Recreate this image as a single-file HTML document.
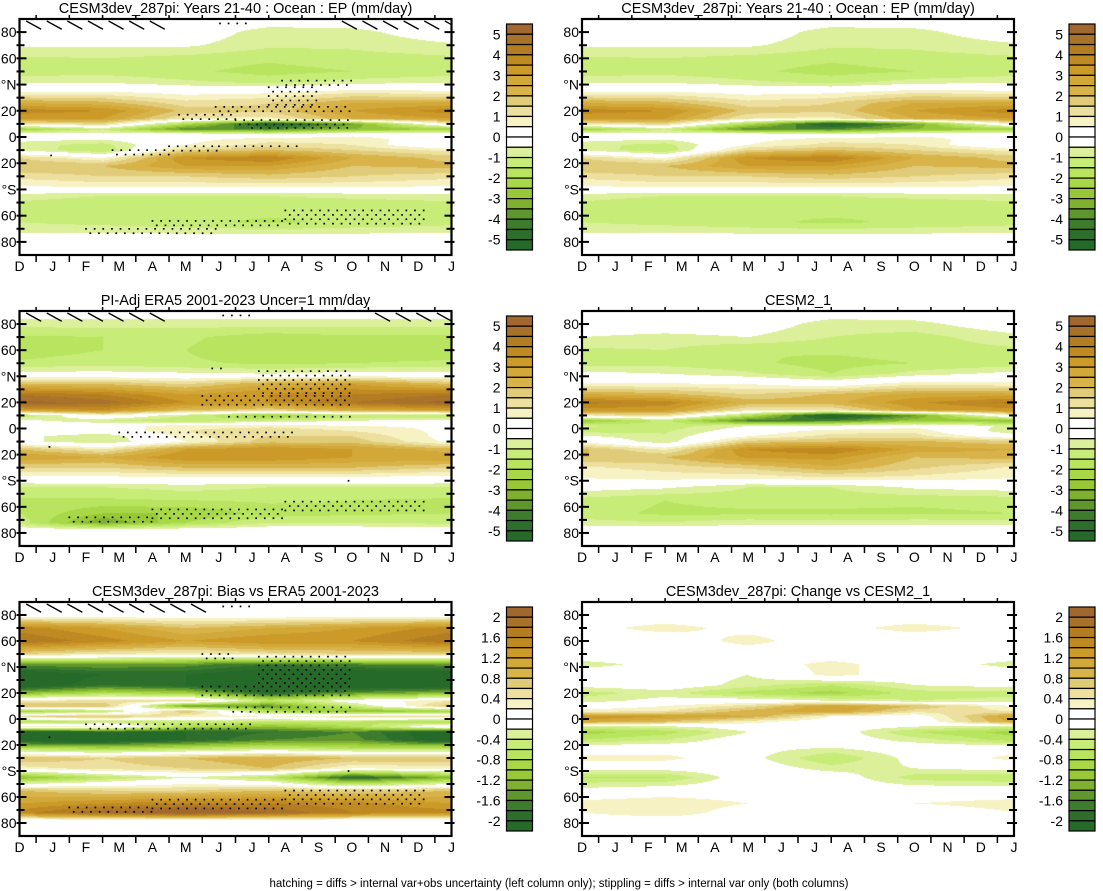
<!DOCTYPE html>
<html><head><meta charset="utf-8">
<style>
html,body{margin:0;padding:0;background:#fff;}
#root{position:relative;width:1103px;height:891px;overflow:hidden;font-family:"Liberation Sans",Arial,sans-serif;}
canvas{position:absolute;}
svg{position:absolute;left:0;top:0;}
</style></head>
<body>
<div id="root">
<canvas id="c0"></canvas>
<canvas id="c1"></canvas>
<canvas id="c2"></canvas>
<canvas id="c3"></canvas>
<canvas id="c4"></canvas>
<canvas id="c5"></canvas>
<svg id="ov" width="1103" height="891"></svg>
</div>
<script>
// ---- data ----
const LAT=[90,80,70,60,50,42,34,26,20,14,10,6,2,-2,-6,-10,-16,-22,-30,-38,-45,-55,-65,-72,-78,-90];
const T=[0,2.5,5,7.5,10,13];
const epModel=[
[0,0,0,0,0,0],[0,0,0,-0.8,-0.7,0],[-0.4,-0.4,-0.4,-0.9,-0.9,-0.6],[-1.1,-1.0,-1.2,-1.4,-1.2,-1.1],
[-1.3,-1.2,-1.4,-1.7,-1.5,-1.3],[-0.6,-0.6,-0.9,-1.2,-0.8,-0.6],[0.6,0.6,0.3,0.4,0.9,0.7],
[2.5,2.2,1.2,1.5,2.5,2.6],[3.8,3.5,1.8,1.6,3.0,3.8],[3.0,3.0,1.0,0.8,2.5,3.0],[1.0,1.5,-2.0,-5.5,-3.5,1.0],
[-2.5,-1.0,-4.0,-4.0,-3.0,-2.5],[0.3,-0.4,0.3,-0.2,0.3,0.3],[-0.3,-0.5,0.3,0.8,0.8,0.0],
[-0.8,-1.2,0.5,1.2,1.0,-0.4],[-0.6,-1.5,1.5,2.0,1.5,0.8],[1.5,0.5,3.5,4.0,2.5,1.8],[2.0,2.0,3.0,3.0,2.0,2.2],
[1.2,1.5,1.5,1.8,1.5,1.2],[0.4,0.6,0.6,0.6,0.6,0.4],[-0.8,-1.0,-1.0,-1.0,-0.9,-0.8],[-1.3,-1.5,-1.3,-1.3,-1.4,-1.3],
[-1.0,-1.2,-1.4,-1.6,-1.4,-1.2],[-0.6,-0.6,-0.7,-0.8,-0.7,-0.6],[0,0,0,0,0,0],[0,0,0,0,0,0]];
const epEra5=[
[0,0,0,0,0,0],[-0.8,-0.8,-0.8,-0.8,-0.8,-0.8],[-1.6,-1.5,-1.4,-1.8,-1.6,-1.6],[-1.8,-1.5,-1.5,-2.0,-1.8,-1.8],
[-1.4,-1.2,-1.4,-1.6,-1.5,-1.4],[-0.3,-0.3,-0.4,-0.5,-0.3,-0.3],[2.0,2.0,1.5,2.5,3.0,2.0],
[4.5,4.0,3.0,3.5,4.0,4.5],[5.2,4.8,3.5,3.5,4.5,5.2],[3.0,3.5,2.0,1.5,2.5,3.0],[-1.5,0.5,-1.0,-2.5,-1.5,-1.5],
[-0.3,-1.0,-1.5,-1.0,-0.5,-0.3],[0.4,0.2,0.8,0.8,0.5,0.4],[0.2,0.0,1.0,1.5,1.0,0.3],
[-0.3,-1.0,0.8,1.5,1.5,0.2],[-0.3,-1.0,0.5,1.8,1.8,0.3],[2.0,1.0,3.0,3.5,3.0,2.2],[3.0,2.5,3.5,3.5,3.0,3.0],
[1.5,1.5,2.0,2.0,2.0,1.5],[0.2,0.3,0.3,0.3,0.3,0.2],[-1.0,-1.0,-0.8,-1.0,-1.0,-1.0],[-1.6,-1.6,-1.5,-1.4,-1.5,-1.6],
[-1.5,-2.5,-2.5,-1.8,-1.6,-1.5],[-1.2,-3.5,-2.0,-1.0,-1.0,-1.2],[0,0,0,0,0,0],[0,0,0,0,0,0]];
const epCesm2=[
[0,0,0,0,0,0],[0,0,0,-0.8,-0.7,0],[-0.5,-0.7,-0.5,-1.0,-1.2,-0.7],[-1.1,-1.0,-1.5,-1.4,-1.2,-1.1],
[-1.3,-1.2,-1.4,-1.7,-1.5,-1.3],[-0.3,-0.5,-0.9,-1.5,-0.8,-0.3],[0.6,0.6,0.5,0.1,0.9,0.7],
[2.6,2.2,1.5,2.1,2.7,2.7],[4.2,3.8,2.3,2.3,3.4,4.2],[3.3,3.1,1.0,1.0,2.9,3.3],[1.0,1.3,-1.8,-5.9,-3.6,0.8],
[-2.8,-1.3,-4.1,-4.1,-2.7,-2.9],[-0.9,-1.3,-0.5,-0.3,0.3,-0.7],[-1.2,-1.1,0,0.8,0.9,-1.0],
[-0.4,-0.9,0.5,1.2,1.2,0.0],[0.3,-0.9,1.7,2.0,2.1,1.7],[2.1,0.9,3.5,4.0,2.8,2.5],[2.0,2.0,3.1,3.2,2.0,2.2],
[0.9,1.2,1.6,2.4,1.6,0.9],[0.5,0.7,0.6,0.9,0.8,0.5],[-0.2,-0.4,-1.0,-1.0,-0.4,-0.2],[-1.2,-1.5,-1.3,-1.3,-1.4,-1.3],
[-1.3,-1.6,-1.6,-1.6,-1.6,-1.5],[-0.8,-1.0,-0.7,-0.8,-0.7,-0.8],[0,0,0,0,0,0],[0,0,0,0,0,0]];
const biasVsEra5=[
[0,0,0,0,0,0],[0,0,0,0,0,0],[1.5,1.2,0.8,1.0,1.2,1.5],[1.8,1.5,1.2,1.4,1.4,1.8],
[0.6,0.4,0.3,0.5,0.6,0.6],[-1.5,-1.4,-1.5,-1.8,-1.6,-1.5],[-2.3,-2.0,-2.0,-2.3,-2.3,-2.3],
[-2.3,-1.8,-2.0,-2.5,-2.3,-2.3],[-1.2,-0.8,-1.0,-2.0,-1.5,-1.2],[0.4,0.5,0.6,-0.6,0.0,0.4],[0.8,0.8,-1.5,-1.5,-0.5,0.8],
[-1.0,-0.6,0.8,-0.8,-1.2,-1.0],[0.6,0.8,0.3,0.2,0.5,0.6],[-0.8,-0.5,-0.5,-0.5,-0.6,-0.8],
[0.3,0.4,-0.8,-1.2,-0.8,0.3],[-2.3,-2.0,-2.0,-1.8,-1.6,-2.3],[-2.3,-2.3,-2.0,-1.6,-1.5,-2.3],[-0.8,-1.0,-0.8,-0.6,-0.8,-0.8],
[0.8,0.6,0.8,1.0,0.8,0.8],[0.3,0.5,0.6,0.8,0.2,0.3],[-1.2,-0.6,-0.2,-0.6,-2.0,-1.2],[0.8,0.6,0.6,0.8,0.6,0.8],
[1.2,1.4,1.6,1.6,1.5,1.2],[1.5,2.0,2.3,2.0,1.6,1.5],[0,0,0,0,0,0],[0,0,0,0,0,0]];
const changeVsCesm2=[
[0,0,0,0,0,0],[0,0,0,0,0,0],[0.1,0.3,0.1,0.1,0.3,0.1],[0,0,0.3,0,0,0],
[0,0,0,0,0,0],[-0.3,-0.1,0,0.3,0,-0.3],[0,0,-0.2,0.3,0,0],
[-0.1,0,-0.3,-0.6,-0.2,-0.1],[-0.5,-0.3,-0.7,-0.9,-0.5,-0.5],[-0.3,-0.1,0,-0.2,-0.4,-0.3],[0,0.2,0.5,1.2,0.8,0.2],
[0.3,0.4,0.9,1.2,0.5,0.4],[1.4,1.2,1.0,0.2,0,1.2],[1.1,0.8,0.3,0,-0.1,1.1],
[-0.4,-0.3,0,0,-0.2,-0.4],[-0.9,-0.7,-0.2,0,-0.6,-0.9],[-0.6,-0.4,0,0,-0.3,-0.7],[0,0,-0.1,-0.2,0,0],
[0.3,0.3,-0.1,-0.6,-0.1,0.3],[-0.1,-0.1,0,-0.3,-0.2,-0.1],[-0.6,-0.6,0,0,-0.5,-0.6],[-0.1,0,0,0,0,0],
[0.3,0.4,0.2,0,0.2,0.3],[0.2,0.4,0,0,0,0.2],[0,0,0,0,0,0],[0,0,0,0,0,0]];
const monthLabels=['D','J','F','M','A','M','J','J','A','S','O','N','D','J'];
const latTicks=[80,60,40,20,0,-20,-40,-60,-80];
const latTickLabels=['80','60','°N','20','0','20','°S','60','80'];
const cbLabelsEP=['5','4','3','2','1','0','-1','-2','-3','-4','-5'];
const cbLabelsDiff=['2','1.6','1.2','0.8','0.4','0','-0.4','-0.8','-1.2','-1.6','-2'];
const titles=['CESM3dev_287pi: Years 21-40 : Ocean : EP (mm/day)','CESM3dev_287pi: Years 21-40 : Ocean : EP (mm/day)',
'PI-Adj ERA5 2001-2023 Uncer=1 mm/day','CESM2_1','CESM3dev_287pi: Bias vs ERA5 2001-2023','CESM3dev_287pi: Change vs CESM2_1'];
// stipple regions: [tStart,tEnd,latTop,latBottom]
const stipModel=[[7.9,10,43,38],[7.5,9,38,22],[5.9,10,23,19],[4.8,6.5,17,13],[6.5,10,13,8],[7,10,7,4],[0.95,1.05,-14,-16],[2.8,4.5,-10,-16],[4.5,6,-7,-11],[6,8.5,-7,-9],[2,6,-70,-74],[4,8,-64,-70],[8,12.2,-56,-68],[5.9,7,90,86]];
const stipEra5=[[5.8,6.2,46,44],[7.2,10,44,25],[5.5,10,25,15],[6.3,10,9,6],[3,8.2,-3,-8],[0.9,1.1,-14,-16],[1.5,4,-68,-74],[4,8,-62,-70],[8,12.2,-56,-66],[9.9,10.1,-40,-42],[6,7,90,86]];
const stipBias=[[5.5,6.5,50,46],[7.2,10,48,25],[5.5,10,25,15],[6.3,10,9,4],[2,7,-4,-10],[0.9,1.1,-14,-16],[1.5,4,-68,-74],[4,8,-62,-70],[8,12.2,-55,-66],[9.9,10.1,-40,-42],[6,7,90,86]];
// hatch month ranges
const hatchModel=[[0,4],[9.5,13]];
const hatchEra5=[[0,4],[10.5,13]];
const hatchBias=[[0,5.5]];

const COLORS=['#a0682e','#a8722a','#b47d22','#c08a22','#cc9a28','#d2a838','#d8b34a','#e0cb78','#ede09e','#f6f2c4','#ffffff','#ffffff',
'#dcef9a','#c8ec78','#b8e460','#a8d848','#98c838','#80b030','#5f962e','#3c7c2c','#2d6e2c','#266a2a'];

const COLX=[19.5,582], W=432;
const ROWY=[19,311,602], ROWH=[236,235,234];
const panels=[
 {col:0,row:0,grid:epModel,max:5.5,step:0.5,cb:cbLabelsEP,stip:stipModel,hatch:hatchModel},
 {col:1,row:0,grid:epModel,max:5.5,step:0.5,cb:cbLabelsEP,stip:[],hatch:[]},
 {col:0,row:1,grid:epEra5,max:5.5,step:0.5,cb:cbLabelsEP,stip:stipEra5,hatch:hatchEra5},
 {col:1,row:1,grid:epCesm2,max:5.5,step:0.5,cb:cbLabelsEP,stip:[],hatch:[]},
 {col:0,row:2,grid:biasVsEra5,max:2.2,step:0.2,cb:cbLabelsDiff,stip:stipBias,hatch:hatchBias},
 {col:1,row:2,grid:changeVsCesm2,max:2.2,step:0.2,cb:cbLabelsDiff,stip:[],hatch:[]}];

function sample(grid,t,lat){
  let j=0; while(j<T.length-2 && t>T[j+1]) j++;
  let ft=(t-T[j])/(T[j+1]-T[j]); ft=Math.max(0,Math.min(1,ft));
  let i=0; while(i<LAT.length-2 && lat<LAT[i+1]) i++;
  let fl=(LAT[i]-lat)/(LAT[i]-LAT[i+1]); fl=Math.max(0,Math.min(1,fl));
  const a=grid[i][j]*(1-ft)+grid[i][j+1]*ft;
  const b=grid[i+1][j]*(1-ft)+grid[i+1][j+1]*ft;
  return a*(1-fl)+b*fl;
}
function hex(c){return [parseInt(c.substr(1,2),16),parseInt(c.substr(3,2),16),parseInt(c.substr(5,2),16)];}
const RGB=COLORS.map(hex);
function levelIndex(v,max,step){return Math.max(0,Math.min(21,Math.floor((max-v)/step)));}

const svg=document.getElementById('ov');
const NS='http://www.w3.org/2000/svg';
function mk(tag,attrs,parent){const e=document.createElementNS(NS,tag);for(const k in attrs)e.setAttribute(k,attrs[k]);(parent||svg).appendChild(e);return e;}

panels.forEach((p,pi)=>{
  const x0=COLX[p.col], y0=ROWY[p.row], h=ROWH[p.row];
  const xs=t=>x0+t*W/13, ys=lat=>y0+(90-lat)*h/180;
  const cv=document.getElementById('c'+pi);
  cv.width=W; cv.height=h; cv.style.left=x0+'px'; cv.style.top=y0+'px';
  const ctx=cv.getContext('2d'); const img=ctx.createImageData(W,h);
  for(let py=0;py<h;py++){const lat=90-(py+0.5)*180/h;
    for(let px=0;px<W;px++){const t=(px+0.5)*13/W;
      const c=RGB[levelIndex(sample(p.grid,t,lat),p.max,p.step)];
      const k=(py*W+px)*4; img.data[k]=c[0];img.data[k+1]=c[1];img.data[k+2]=c[2];img.data[k+3]=255;}}
  ctx.putImageData(img,0,0);
  const g=mk('g',{});
  
  
  p.stip.forEach(r=>{
    let row=0;
    for(let lat=r[2];lat>=r[3];lat-=4.4*180/h,row++){
      const off=(row%2)*0.13;
      for(let t=r[0]+off;t<=r[1];t+=0.26){
        const d=mk('rect',{x:(xs(t)-0.8).toFixed(1),y:(ys(lat)-0.8).toFixed(1),width:1.7,height:1.7,fill:'#000'},g);
        
        
      }}
  });
  p.hatch.forEach(r=>{
    for(let t=r[0]+0.2;t<r[1];t+=0.62){
      const x=xs(t); const x2=Math.min(x+15,x0+W);
      const l=mk('line',{x1:x,y1:y0+2,x2:x2,y2:y0+2+(x2-x)*0.55,stroke:'#000','stroke-width':1.3},g);
      
      
    }});
  const fr=mk('rect',{x:x0,y:y0,width:W,height:h,fill:'none',stroke:'#000','stroke-width':2.2},g);
  
  
  for(let lat=-80;lat<=80;lat+=10){
    const y=ys(lat); const maj=lat%20===0;
    mk('line',{x1:x0-3,y1:y,x2:x0+(maj?7:5),y2:y,stroke:'#000','stroke-width':2},g);
    mk('line',{x1:x0+W+3,y1:y,x2:x0+W-(maj?7:5),y2:y,stroke:'#000','stroke-width':2},g);
  }
  latTicks.forEach((lat,k)=>{
    const tx=mk('text',{x:x0-3,y:ys(lat)+5,'text-anchor':'end','font-size':14},g);
    tx.textContent=latTickLabels[k];
    
    
  });
  for(let k=0;k<13;k++){const x=xs(k+0.5);
    mk('line',{x1:x,y1:y0+h,x2:x,y2:y0+h+7,stroke:'#000','stroke-width':1.5},g);
    mk('line',{x1:x,y1:y0,x2:x,y2:y0-4,stroke:'#000','stroke-width':1.5},g);}
  monthLabels.forEach((m,k)=>{
    const tx=mk('text',{x:xs(k),y:y0+h+16,'text-anchor':'middle','font-size':14},g);
    tx.textContent=m;
    
    
  });
  const ti=mk('text',{x:x0+W/2,y:y0-6,'text-anchor':'middle','font-size':14.5},g);
  ti.textContent=titles[pi];
  
  
  const cbx=x0+W+55, cby=y0+5, cbh=h-10, bh=cbh/22;
  const cb=mk('g',{},g);
  
  
  COLORS.forEach((c,k)=>{
    const r=mk('rect',{x:cbx,y:cby+k*bh,width:26,height:bh,fill:c,stroke:'#000','stroke-width':1.2},cb);
    
    
  });
  p.cb.forEach((lb,k)=>{
    const tx=mk('text',{x:cbx-6,y:cby+(2*k+1)*bh+5,'text-anchor':'end','font-size':14},cb);
    tx.textContent=lb;
    
    
  });
});
const ft=mk('text',{x:559,y:887,'text-anchor':'middle','font-size':11.5});
ft.textContent='hatching = diffs > internal var+obs uncertainty (left column only); stippling = diffs > internal var only (both columns)';


</script>
</body></html>
